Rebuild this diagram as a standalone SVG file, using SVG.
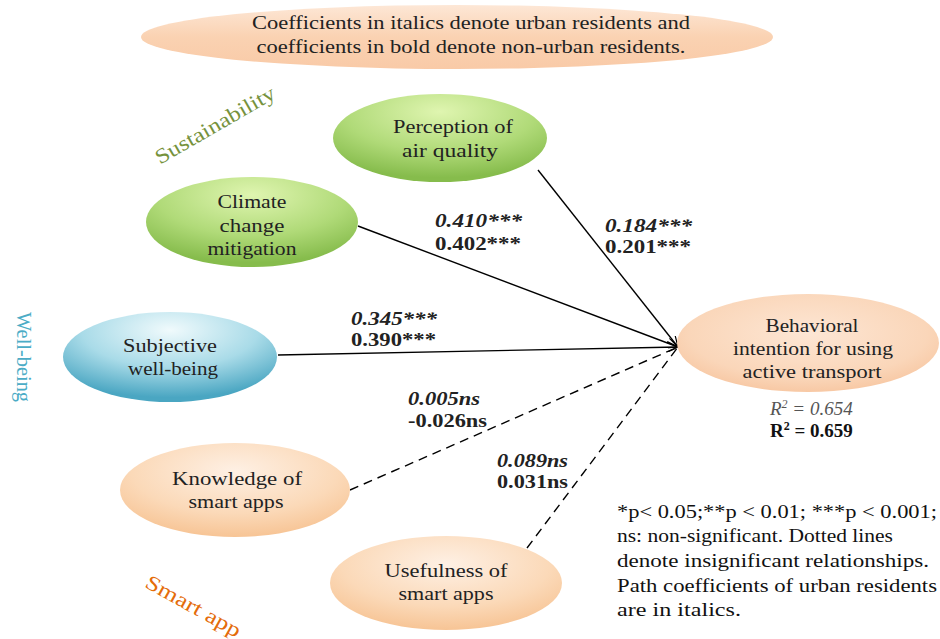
<svg xmlns="http://www.w3.org/2000/svg" width="940" height="639" viewBox="0 0 940 639">
<defs>
<radialGradient id="gGreen" cx="50%" cy="20%" r="75%">
<stop offset="0" stop-color="#dff5b0"/><stop offset="0.6" stop-color="#b0da78"/><stop offset="1" stop-color="#86bc4c"/>
</radialGradient>
<radialGradient id="gBlue" cx="50%" cy="20%" r="75%">
<stop offset="0" stop-color="#f0fafc"/><stop offset="0.55" stop-color="#a9dbe8"/><stop offset="1" stop-color="#4aa6c2"/>
</radialGradient>
<radialGradient id="gOrange" cx="50%" cy="30%" r="75%">
<stop offset="0" stop-color="#fef0e4"/><stop offset="0.6" stop-color="#fbd9b8"/><stop offset="1" stop-color="#f6c08e"/>
</radialGradient>
<radialGradient id="gPeach" cx="50%" cy="40%" r="70%">
<stop offset="0" stop-color="#fde6d4"/><stop offset="0.65" stop-color="#fad6b9"/><stop offset="1" stop-color="#f6bf96"/>
</radialGradient>
<linearGradient id="gBanner" x1="0" y1="0" x2="0" y2="1">
<stop offset="0" stop-color="#fde7d6"/><stop offset="0.5" stop-color="#fad2b2"/><stop offset="1" stop-color="#f9caa7"/>
</linearGradient>
<marker id="arr" markerWidth="12" markerHeight="10" refX="11" refY="5" orient="auto" markerUnits="userSpaceOnUse">
<path d="M0,0 L11,5 L0,10" fill="none" stroke="#000" stroke-width="1.2"/>
</marker>
</defs>
<style>
.n{font-family:'Liberation Serif',serif;font-size:18.5px;text-anchor:middle;fill:#222;}
.c{font-family:'Liberation Serif',serif;font-size:18px;font-weight:bold;fill:#222;}
.ci{font-family:'Liberation Serif',serif;font-size:18px;font-weight:bold;font-style:italic;fill:#222;}
.fn{font-family:'Liberation Serif',serif;font-size:18.5px;fill:#111;}
.lb{font-family:'Liberation Serif',serif;font-size:21px;text-anchor:middle;}
.ln{stroke:#000;stroke-width:1.4;fill:none;}
.ds{stroke-dasharray:9,6;}
</style>
<rect width="940" height="639" fill="#fff"/>
<g id="banner">
<ellipse cx="457" cy="37" rx="316" ry="32" fill="url(#gBanner)"/>
<text class="n" style="font-family:'Liberation Serif',serif" x="471" y="29" textLength="438" lengthAdjust="spacingAndGlyphs">Coefficients in italics denote urban residents and</text>
<text class="n" style="font-family:'Liberation Serif',serif" x="471" y="53" textLength="429" lengthAdjust="spacingAndGlyphs">coefficients in bold denote non-urban residents.</text>
</g>
<g id="group-labels">
<text class="lb" x="215" y="132" transform="rotate(-30 215 125)" style="font-family:'Liberation Serif',serif;fill:#76923c" textLength="135" lengthAdjust="spacingAndGlyphs">Sustainability</text>
<text class="lb" x="357" y="-17" transform="rotate(90)" style="font-family:'Liberation Serif',serif;fill:#4bacc6" textLength="90" lengthAdjust="spacingAndGlyphs">Well-being</text>
<text class="lb" x="193" y="613" transform="rotate(29 193 607)" style="font-family:'Liberation Serif',serif;fill:#e46c0a" textLength="106" lengthAdjust="spacingAndGlyphs">Smart app</text>
</g>
<g id="connectors">
<line class="ln" x1="538" y1="170" x2="678" y2="347" marker-end="url(#arr)"/>
<line class="ln" x1="358" y1="226" x2="678" y2="347" marker-end="url(#arr)"/>
<line class="ln" x1="278" y1="355" x2="678" y2="347" marker-end="url(#arr)"/>
<line class="ln ds" x1="350" y1="490" x2="678" y2="347"/>
<line class="ln ds" x1="527" y1="548" x2="678" y2="347"/>
</g>
<g id="coefficients">
<text class="ci" style="font-family:'Liberation Serif',serif" x="435" y="227" textLength="87" lengthAdjust="spacingAndGlyphs">0.410***</text>
<text class="c" style="font-family:'Liberation Serif',serif" x="435" y="250" textLength="86" lengthAdjust="spacingAndGlyphs">0.402***</text>
<text class="ci" style="font-family:'Liberation Serif',serif" x="605" y="232" textLength="87" lengthAdjust="spacingAndGlyphs">0.184***</text>
<text class="c" style="font-family:'Liberation Serif',serif" x="605" y="253" textLength="86" lengthAdjust="spacingAndGlyphs">0.201***</text>
<text class="ci" style="font-family:'Liberation Serif',serif" x="351" y="325" textLength="86" lengthAdjust="spacingAndGlyphs">0.345***</text>
<text class="c" style="font-family:'Liberation Serif',serif" x="351" y="346" textLength="85" lengthAdjust="spacingAndGlyphs">0.390***</text>
<text class="ci" style="font-family:'Liberation Serif',serif" x="408" y="405" textLength="72" lengthAdjust="spacingAndGlyphs">0.005ns</text>
<text class="c" style="font-family:'Liberation Serif',serif" x="408" y="427" textLength="79" lengthAdjust="spacingAndGlyphs">-0.026ns</text>
<text class="ci" style="font-family:'Liberation Serif',serif" x="497" y="467" textLength="71" lengthAdjust="spacingAndGlyphs">0.089ns</text>
<text class="c" style="font-family:'Liberation Serif',serif" x="497" y="488" textLength="71" lengthAdjust="spacingAndGlyphs">0.031ns</text>
</g>
<g id="perception">
<ellipse cx="440" cy="138" rx="107" ry="44" fill="url(#gGreen)"/>
<text class="n" style="font-family:'Liberation Serif',serif" x="453" y="133" textLength="120" lengthAdjust="spacingAndGlyphs">Perception of</text>
<text class="n" style="font-family:'Liberation Serif',serif" x="450" y="157" textLength="96" lengthAdjust="spacingAndGlyphs">air quality</text>
</g>
<g id="climate">
<ellipse cx="252" cy="222" rx="106" ry="45" fill="url(#gGreen)"/>
<text class="n" style="font-family:'Liberation Serif',serif" x="252" y="208" textLength="69" lengthAdjust="spacingAndGlyphs">Climate</text>
<text class="n" style="font-family:'Liberation Serif',serif" x="252" y="232" textLength="65" lengthAdjust="spacingAndGlyphs">change</text>
<text class="n" style="font-family:'Liberation Serif',serif" x="252" y="255" textLength="89" lengthAdjust="spacingAndGlyphs">mitigation</text>
</g>
<g id="wellbeing">
<ellipse cx="170" cy="357" rx="107" ry="45" fill="url(#gBlue)"/>
<text class="n" style="font-family:'Liberation Serif',serif" x="170" y="352" textLength="94" lengthAdjust="spacingAndGlyphs">Subjective</text>
<text class="n" style="font-family:'Liberation Serif',serif" x="173" y="375" textLength="90" lengthAdjust="spacingAndGlyphs">well-being</text>
</g>
<g id="knowledge">
<ellipse cx="235" cy="490" rx="115" ry="47" fill="url(#gOrange)"/>
<text class="n" style="font-family:'Liberation Serif',serif" x="237" y="485" textLength="130" lengthAdjust="spacingAndGlyphs">Knowledge of</text>
<text class="n" style="font-family:'Liberation Serif',serif" x="236" y="508" textLength="95" lengthAdjust="spacingAndGlyphs">smart apps</text>
</g>
<g id="usefulness">
<ellipse cx="446" cy="583" rx="116" ry="47" fill="url(#gOrange)"/>
<text class="n" style="font-family:'Liberation Serif',serif" x="446" y="577" textLength="123" lengthAdjust="spacingAndGlyphs">Usefulness of</text>
<text class="n" style="font-family:'Liberation Serif',serif" x="446" y="600" textLength="95" lengthAdjust="spacingAndGlyphs">smart apps</text>
</g>
<g id="behavioral">
<ellipse cx="808" cy="343" rx="131" ry="49" fill="url(#gPeach)"/>
<text class="n" style="font-family:'Liberation Serif',serif" x="812" y="332" textLength="93" lengthAdjust="spacingAndGlyphs">Behavioral</text>
<text class="n" style="font-family:'Liberation Serif',serif" x="813" y="355" textLength="160" lengthAdjust="spacingAndGlyphs">intention for using</text>
<text class="n" style="font-family:'Liberation Serif',serif" x="812" y="378" textLength="139" lengthAdjust="spacingAndGlyphs">active transport</text>
<text x="770" y="415" style="font-family:'Liberation Serif',serif;font-size:19px;font-style:italic;fill:#555">R<tspan dy="-7" style="font-size:12px">2</tspan><tspan dy="7"> = 0.654</tspan></text>
<text x="770" y="437" style="font-family:'Liberation Serif',serif;font-size:19px;font-weight:bold;fill:#111">R<tspan dy="-7" style="font-size:12px">2</tspan><tspan dy="7"> = 0.659</tspan></text>
</g>
<g id="footnote">
<text class="fn" style="font-family:'Liberation Serif',serif" x="617" y="518" textLength="320" lengthAdjust="spacingAndGlyphs">*p&lt; 0.05;**p &lt; 0.01; ***p &lt; 0.001;</text>
<text class="fn" style="font-family:'Liberation Serif',serif" x="617" y="542" textLength="276" lengthAdjust="spacingAndGlyphs">ns: non-significant.  Dotted lines</text>
<text class="fn" style="font-family:'Liberation Serif',serif" x="617" y="567" textLength="312" lengthAdjust="spacingAndGlyphs">denote insignificant relationships.</text>
<text class="fn" style="font-family:'Liberation Serif',serif" x="617" y="592" textLength="320" lengthAdjust="spacingAndGlyphs">Path coefficients of urban residents</text>
<text class="fn" style="font-family:'Liberation Serif',serif" x="617" y="616" textLength="124" lengthAdjust="spacingAndGlyphs">are in italics.</text>
</g>
</svg>
